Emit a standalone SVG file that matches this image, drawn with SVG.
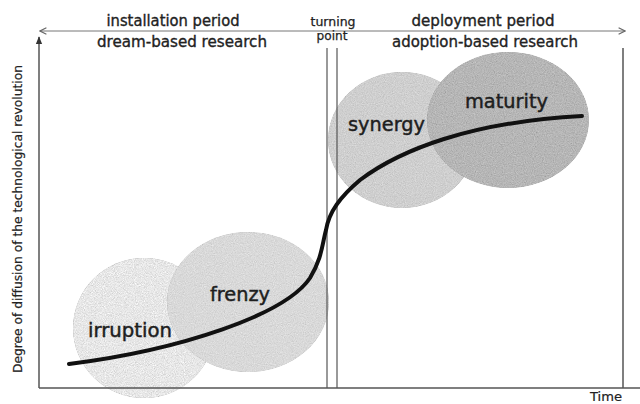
<svg xmlns="http://www.w3.org/2000/svg" width="640" height="404" viewBox="0 0 640 404">
  <style>
    .hdr { font-family: "DejaVu Sans", Verdana, sans-serif; font-size: 15px; fill: #222; stroke: #222; stroke-width: 0.35; text-anchor: middle; }
    .tp { font-family: "DejaVu Sans", Verdana, sans-serif; font-size: 11.5px; fill: #222; stroke: #222; stroke-width: 0.25; text-anchor: middle; }
    .phase { font-family: "DejaVu Sans", Verdana, sans-serif; font-size: 19px; fill: #1e1e1e; stroke: #1e1e1e; stroke-width: 0.45; }
    .axislbl { font-family: "DejaVu Sans", Verdana, sans-serif; font-size: 12px; fill: #222; stroke: #222; stroke-width: 0.2; }
    .axis { stroke: #555; stroke-width: 1.5; fill: none; }
    .guide { stroke: #555; stroke-width: 1.2; fill: none; }
    .span { stroke: #777; stroke-width: 1; fill: none; }
    .curve { stroke: #111; stroke-width: 4; fill: none; stroke-linecap: round; }
  </style>
  <defs>
    <!-- paper-like grain applied inside each phase blob -->
    <filter id="grain" x="0" y="0" width="100%" height="100%">
      <feTurbulence type="fractalNoise" baseFrequency="0.9" numOctaves="2" seed="4" result="noise"/>
      <feColorMatrix in="noise" type="matrix" values="0.33 0.33 0.33 0 0  0.33 0.33 0.33 0 0  0.33 0.33 0.33 0 0  0 0 0 0 1" result="gray"/>
      <feComposite in="SourceGraphic" in2="gray" operator="arithmetic" k1="0" k2="1" k3="0.5" k4="-0.25" result="mix"/>
      <feComposite in="mix" in2="SourceAlpha" operator="in"/>
    </filter>
    <filter id="grainStrong" x="0" y="0" width="100%" height="100%">
      <feTurbulence type="fractalNoise" baseFrequency="1.1" numOctaves="2" seed="9" result="noise"/>
      <feColorMatrix in="noise" type="matrix" values="0.33 0.33 0.33 0 0  0.33 0.33 0.33 0 0  0.33 0.33 0.33 0 0  0 0 0 0 1" result="gray"/>
      <feComposite in="SourceGraphic" in2="gray" operator="arithmetic" k1="0" k2="1" k3="0.85" k4="-0.4" result="mix"/>
      <feComposite in="mix" in2="SourceAlpha" operator="in"/>
    </filter>
    <marker id="openHead" viewBox="0 0 10 10" refX="9" refY="5" markerWidth="8" markerHeight="8" markerUnits="userSpaceOnUse" orient="auto-start-reverse">
      <path d="M1,1 L9,5 L1,9" fill="none" stroke="#666" stroke-width="1.4"/>
    </marker>
    <marker id="solidHead" viewBox="0 0 10 10" refX="9" refY="5" markerWidth="8" markerHeight="8" markerUnits="userSpaceOnUse" orient="auto">
      <path d="M0,1 L10,5 L0,9 Z" fill="#333"/>
    </marker>
  </defs>

  <!-- phase blobs -->
  <g id="irruption">
    <ellipse cx="144" cy="328" rx="71" ry="70" fill="#e4e4e4" filter="url(#grainStrong)"/>
  </g>
  <g id="frenzy">
    <ellipse cx="248" cy="302" rx="81" ry="70" fill="#d9d9d9" filter="url(#grain)"/>
  </g>
  <g id="synergy">
    <ellipse cx="402" cy="140" rx="74" ry="68" fill="#cfcfcf" filter="url(#grain)"/>
  </g>
  <g id="maturity">
    <ellipse cx="508" cy="120" rx="81" ry="68" fill="#b6b6b6" filter="url(#grain)"/>
  </g>

  <!-- axes, period span and turning-point guides -->
  <g id="connectors">
    <line class="span" x1="40" y1="31" x2="625" y2="31" marker-start="url(#openHead)" marker-end="url(#openHead)"/>
    <line class="axis" x1="39" y1="388" x2="39" y2="37" marker-end="url(#solidHead)"/>
    <line class="axis" x1="39" y1="388" x2="640" y2="388"/>
    <line class="guide" x1="327" y1="48" x2="327" y2="388"/>
    <line class="guide" x1="337" y1="48" x2="337" y2="388"/>
    <line class="axis" x1="623" y1="48" x2="623" y2="388"/>
    <path id="diffusion-curve" class="curve" d="M69,364 C180,350 285,315 310,278 C322,258 322,245 326,230 C329,212 340,197 360,180 C400,150 470,122 582,116"/>
  </g>

  <!-- phase labels -->
  <g id="labels">
    <text class="phase" x="88" y="337" textLength="84" lengthAdjust="spacingAndGlyphs">irruption</text>
    <text class="phase" x="210" y="301" textLength="60" lengthAdjust="spacingAndGlyphs">frenzy</text>
    <text class="phase" x="348" y="131" textLength="77" lengthAdjust="spacingAndGlyphs">synergy</text>
    <text class="phase" x="465" y="108" textLength="83" lengthAdjust="spacingAndGlyphs">maturity</text>
  </g>

  <!-- period headers -->
  <g id="headers">
    <text class="hdr" x="173" y="26" textLength="133" lengthAdjust="spacingAndGlyphs">installation period</text>
    <text class="hdr" x="182" y="47" textLength="170" lengthAdjust="spacingAndGlyphs">dream-based research</text>
    <text class="hdr" x="483" y="26" textLength="143" lengthAdjust="spacingAndGlyphs">deployment period</text>
    <text class="hdr" x="485" y="47" textLength="186" lengthAdjust="spacingAndGlyphs">adoption-based research</text>
    <text class="tp" x="333" y="26" textLength="45" lengthAdjust="spacingAndGlyphs">turning</text>
    <text class="tp" x="332" y="40" textLength="31" lengthAdjust="spacingAndGlyphs">point</text>
  </g>

  <!-- axis titles -->
  <g id="axis-titles">
    <text class="axislbl" transform="translate(22,219) rotate(-90)" text-anchor="middle" textLength="308" lengthAdjust="spacingAndGlyphs">Degree of diffusion of the technological revolution</text>
    <text class="axislbl" x="590" y="401" font-size="13" textLength="32" lengthAdjust="spacingAndGlyphs">Time</text>
  </g>
</svg>
